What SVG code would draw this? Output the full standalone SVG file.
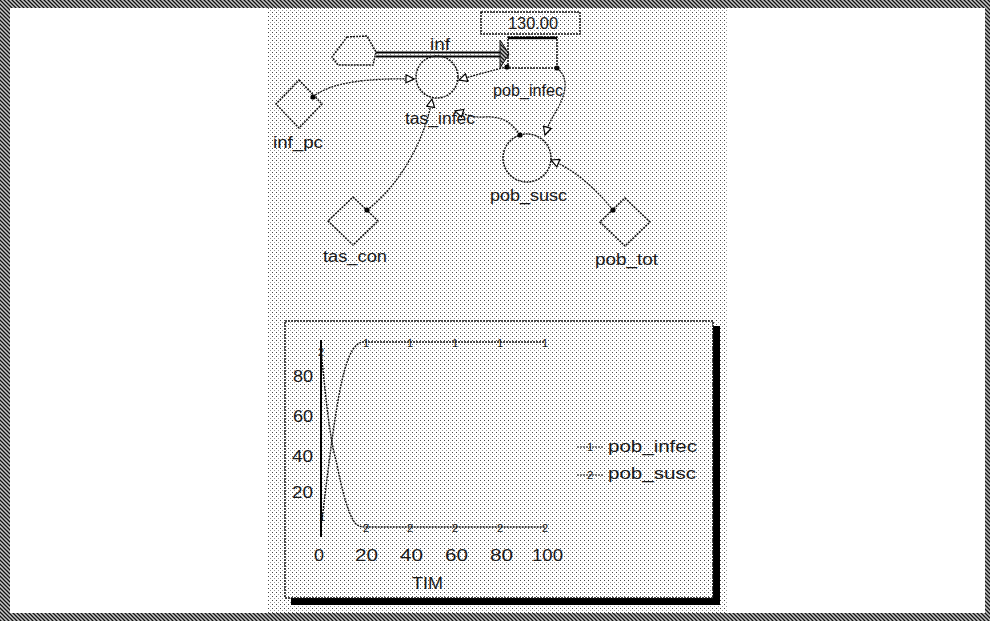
<svg xmlns="http://www.w3.org/2000/svg" width="990" height="621" viewBox="0 0 990 621">
<defs>
<pattern id="dots" width="4" height="4" patternUnits="userSpaceOnUse">
<rect width="4" height="4" fill="#ffffff"/>
<rect x="0" y="0" width="1" height="1" fill="#444"/>
<rect x="2" y="2" width="1" height="1" fill="#999"/>
</pattern>
<pattern id="hatch" width="4" height="4" patternUnits="userSpaceOnUse">
<rect width="4" height="4" fill="#c8c8c8"/>
<path d="M0,0 L4,4 M-1,3 L1,5 M3,-1 L5,1" stroke="#111" stroke-width="1.3"/>
</pattern>
<marker id="dot" viewBox="0 0 6 6" refX="3" refY="3" markerWidth="6" markerHeight="6" markerUnits="userSpaceOnUse">
<circle cx="3" cy="3" r="2.6" fill="#000"/>
</marker>
<marker id="arr" viewBox="0 0 10 10" refX="9" refY="5" markerWidth="10" markerHeight="10" orient="auto" markerUnits="userSpaceOnUse">
<path d="M1,1 L9,5 L1,9 Z" fill="#fff" stroke="#000" stroke-width="1.2"/>
</marker>
</defs>
<style>
.lbl{font-family:"Liberation Sans",Arial,sans-serif;font-size:16px;fill:#1a1a1a;text-anchor:start}
.node{fill:none;stroke:#111;stroke-width:1.5;stroke-dasharray:2 1}
.con{fill:none;stroke:#111;stroke-width:1.3;stroke-dasharray:2 1}
.plot{fill:none;stroke:#111;stroke-width:1.4;stroke-dasharray:2 1}
.tick{font-family:"Liberation Sans",Arial,sans-serif;font-size:11px;fill:#111;text-anchor:middle}
</style>
<rect x="0" y="0" width="990" height="621" fill="url(#hatch)"/>
<rect x="10" y="8" width="975" height="605" fill="#ffffff"/>
<rect x="267" y="8" width="460" height="605" fill="url(#dots)"/>

<g id="connectors">
<path class="con" d="M313,97 C330,82 370,78 414,79" marker-start="url(#dot)" marker-end="url(#arr)"/>
<path class="con" d="M367,210 C400,185 425,140 432,99" marker-start="url(#dot)" marker-end="url(#arr)"/>
<path class="con" d="M520,135 C512,124 505,116 485,117 C472,118 465,114 455,111" marker-start="url(#dot)" marker-end="url(#arr)"/>
<path class="con" d="M557,68 C570,78 565,95 558,108 C552,118 548,125 545,135" marker-start="url(#dot)" marker-end="url(#arr)"/>
<path class="con" d="M613,210 C595,188 575,170 551,160" marker-start="url(#dot)" marker-end="url(#arr)"/>
<path class="con" d="M507,67 C490,71 475,75 459,80" marker-start="url(#dot)" marker-end="url(#arr)"/>
</g>

<g id="cloud">
<path class="node" d="M347,37 L367,36 L376,52 L373,65 L338,65 L332,57 Z"/>
</g>
<g id="flow_inf">
<line x1="376" y1="52.5" x2="504" y2="52.5" stroke="#000" stroke-width="2"/>
<line x1="376" y1="56.5" x2="504" y2="56.5" stroke="#000" stroke-width="2"/>
<path d="M500,40 L509,54 L500,68 Z" fill="url(#hatch)" stroke="#111" stroke-width="1"/>
<text class="lbl" x="430" y="50" textLength="20" lengthAdjust="spacingAndGlyphs">inf</text>
</g>
<g id="value_box">
<rect class="node" x="481" y="12" width="99" height="22"/>
<text class="lbl" x="508" y="29" textLength="50" lengthAdjust="spacingAndGlyphs">130.00</text>
</g>
<g id="pob_infec">
<rect class="node" x="508" y="37" width="49" height="31"/>
<line x1="508" y1="38" x2="557" y2="38" stroke="#000" stroke-width="2.5"/>
<text class="lbl" x="493" y="96" textLength="70" lengthAdjust="spacingAndGlyphs">pob_infec</text>
</g>
<g id="tas_infec">
<circle class="node" cx="437" cy="77" r="21"/>
<text class="lbl" x="405" y="124" textLength="70" lengthAdjust="spacingAndGlyphs">tas_infec</text>
</g>
<g id="inf_pc">
<path class="node" d="M299,80 L322,104 L299,128 L276,104 Z"/>
<text class="lbl" x="273" y="148" textLength="50" lengthAdjust="spacingAndGlyphs">inf_pc</text>
</g>
<g id="tas_con">
<path class="node" d="M353,197 L378,221 L353,245 L328,221 Z"/>
<text class="lbl" x="323" y="262" textLength="64" lengthAdjust="spacingAndGlyphs">tas_con</text>
</g>
<g id="pob_susc">
<circle class="node" cx="527" cy="158" r="24"/>
<text class="lbl" x="490" y="201" textLength="77" lengthAdjust="spacingAndGlyphs">pob_susc</text>
</g>
<g id="pob_tot">
<path class="node" d="M625,198 L650,222 L625,246 L600,222 Z"/>
<text class="lbl" x="595" y="265" textLength="63" lengthAdjust="spacingAndGlyphs">pob_tot</text>
</g>

<g id="chart">
<rect x="291" y="598" width="429" height="7" fill="#000"/>
<rect x="713" y="326" width="7" height="279" fill="#000"/>
<rect x="285" y="321" width="428" height="277" fill="none" stroke="#111" stroke-width="1.5" stroke-dasharray="2 1"/>
<line x1="321" y1="340" x2="321" y2="537" stroke="#000" stroke-width="2"/>
<path class="plot" d="M322,520 C328,470 334,420 340,390 C346,360 352,345 362,342 L545,342"/>
<path class="plot" d="M321,350 C326,400 330,440 336,460 C342,490 348,515 356,524 C360,527 362,527 366,527 L545,527"/>
<text class="tick" x="366" y="347">1</text>
<text class="tick" x="410" y="347">1</text>
<text class="tick" x="455" y="347">1</text>
<text class="tick" x="500" y="347">1</text>
<text class="tick" x="545" y="347">1</text>
<text class="tick" x="366" y="532">2</text>
<text class="tick" x="410" y="532">2</text>
<text class="tick" x="455" y="532">2</text>
<text class="tick" x="500" y="532">2</text>
<text class="tick" x="545" y="532">2</text>
<text class="tick" x="321" y="356">2</text>
<text class="tick" x="322" y="521">1</text>
<text class="lbl" x="293" y="382" textLength="20" lengthAdjust="spacingAndGlyphs">80</text>
<text class="lbl" x="293" y="422" textLength="20" lengthAdjust="spacingAndGlyphs">60</text>
<text class="lbl" x="292" y="462" textLength="21" lengthAdjust="spacingAndGlyphs">40</text>
<text class="lbl" x="292" y="498" textLength="21" lengthAdjust="spacingAndGlyphs">20</text>
<text class="lbl" x="314" y="561" textLength="10" lengthAdjust="spacingAndGlyphs">0</text>
<text class="lbl" x="355" y="561" textLength="23" lengthAdjust="spacingAndGlyphs">20</text>
<text class="lbl" x="400" y="561" textLength="23" lengthAdjust="spacingAndGlyphs">40</text>
<text class="lbl" x="445" y="561" textLength="23" lengthAdjust="spacingAndGlyphs">60</text>
<text class="lbl" x="490" y="561" textLength="23" lengthAdjust="spacingAndGlyphs">80</text>
<text class="lbl" x="532" y="561" textLength="31" lengthAdjust="spacingAndGlyphs">100</text>
<text class="lbl" x="412" y="589" textLength="31" lengthAdjust="spacingAndGlyphs">TIM</text>
<line x1="577" y1="447" x2="604" y2="447" stroke="#111" stroke-width="1" stroke-dasharray="2 1"/>
<text class="tick" x="590" y="451">1</text>
<text class="lbl" x="608" y="452" textLength="89" lengthAdjust="spacingAndGlyphs">pob_infec</text>
<line x1="577" y1="475" x2="604" y2="475" stroke="#111" stroke-width="1" stroke-dasharray="2 1"/>
<text class="tick" x="590" y="479">2</text>
<text class="lbl" x="608" y="479" textLength="88" lengthAdjust="spacingAndGlyphs">pob_susc</text>
</g>
</svg>
